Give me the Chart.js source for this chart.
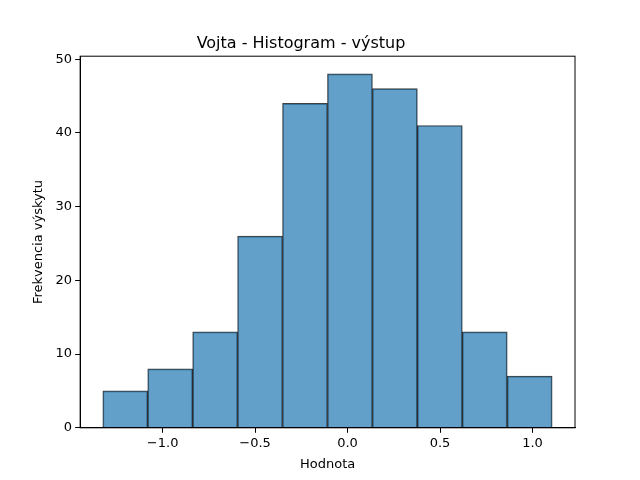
<!DOCTYPE html>
<html>
<head>
<meta charset="utf-8">
<script src="https://cdn.jsdelivr.net/npm/chart.js@4"></script>
<style>body{margin:0;background:#fff}#wrap{width:640px;height:480px}</style>
</head>
<body>
<div id="wrap"><canvas id="c" width="640" height="480"></canvas></div>
<script>
// histogram bin centres and counts
const binCenters = [-1.202, -0.959, -0.716, -0.473, -0.230, 0.013, 0.256, 0.499, 0.742, 0.985];
const counts = [5, 8, 13, 26, 44, 48, 46, 41, 13, 7];
const xTicks = [-1.0, -0.5, 0.0, 0.5, 1.0];
const yTicks = [0, 10, 20, 30, 40, 50];

const fmt = v => v.toFixed(1).replace('-', '\u2212');
const font = { family: 'DejaVu Sans', size: 13 };

const frame = {
    id: 'frame',
    afterDraw(chart) {
        const a = chart.chartArea, ctx = chart.ctx;
        ctx.save();
        ctx.strokeStyle = '#000';
        ctx.lineWidth = 1;
        ctx.strokeRect(a.left, a.top, a.right - a.left, a.bottom - a.top);
        ctx.restore();
    }
};

new Chart(document.getElementById('c'), {
    type: 'bar',
    data: {
        datasets: [{
            data: binCenters.map((x, i) => ({ x: x, y: counts[i] })),
            backgroundColor: 'rgba(31,119,180,0.7)',
            borderColor: 'rgba(0,0,0,0.75)',
            borderWidth: 1,
            barPercentage: 1,
            categoryPercentage: 1
        }]
    },
    options: {
        responsive: false,
        animation: false,
        layout: { padding: { left: 27, right: 65, top: 10, bottom: 4 } },
        plugins: {
            legend: { display: false },
            tooltip: { enabled: false },
            title: {
                display: true, text: 'Vojta - Histogram - výstup', color: '#000',
                font: { family: 'DejaVu Sans', size: 16, weight: 'normal' },
                padding: { top: 24, bottom: 3 }
            }
        },
        scales: {
            x: {
                type: 'linear', min: -1.446, max: 1.230, offset: false,
                afterBuildTicks: s => { s.ticks = xTicks.map(v => ({ value: v })); },
                ticks: { color: '#000', font: font, callback: v => fmt(v), maxRotation: 0 },
                grid: { offset: false, drawOnChartArea: false, drawTicks: true, tickLength: 5, color: '#000' },
                border: { color: '#000' },
                title: { display: true, text: 'Hodnota', color: '#000', font: font, padding: { top: 2 } }
            },
            y: {
                min: 0, max: 50.4,
                afterBuildTicks: s => { s.ticks = yTicks.map(v => ({ value: v })); },
                ticks: { color: '#000', font: font },
                grid: { drawOnChartArea: false, drawTicks: true, tickLength: 5, color: '#000' },
                border: { color: '#000' },
                title: { display: true, text: 'Frekvencia výskytu', color: '#000', font: font, padding: { bottom: 6 } }
            }
        }
    },
    plugins: [frame]
});
</script>
</body>
</html>
